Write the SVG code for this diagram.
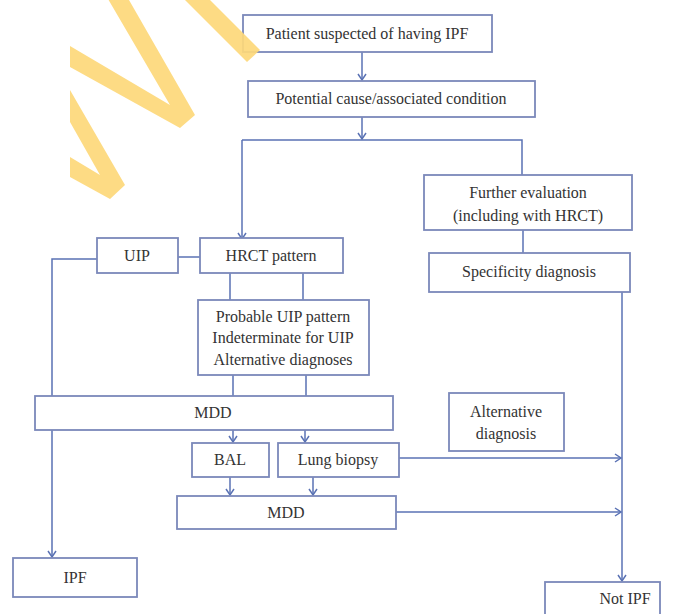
<svg xmlns="http://www.w3.org/2000/svg" width="694" height="614" viewBox="0 0 694 614">
<style>
.box{fill:#ffffff;stroke:#7b88ba;stroke-width:1.8}
.t{font-family:'Liberation Serif','Times New Roman',Times,'DejaVu Serif',serif;font-size:16px;fill:#333333;text-anchor:middle}
.c{fill:none;stroke:#5a72b4;stroke-width:1.5}
.wm{fill:#fdd87a;opacity:0.92}
</style>
<defs>
<marker id="ah" markerUnits="userSpaceOnUse" markerWidth="12" markerHeight="12" viewBox="-8 -6 10 12" refX="0" refY="0" orient="auto">
<path d="M-6,-4 L0,0 L-6,4" fill="none" stroke="#5a72b4" stroke-width="1.5"/>
</marker>
</defs>
<rect width="694" height="614" fill="#ffffff"/>
<g id="connectors">
<path class="c" d="M362,52 V80" marker-end="url(#ah)"/>
<path class="c" d="M362,117 V139" marker-end="url(#ah)"/>
<path class="c" d="M242,140 V239" marker-end="url(#ah)"/>
<path class="c" d="M242,140 H522 V175"/>
<path class="c" d="M523,230 V253"/>
<path class="c" d="M622,292 V581" marker-end="url(#ah)"/>
<path class="c" d="M178,257 H200"/>
<path class="c" d="M97,259 H52 V557" marker-end="url(#ah)"/>
<path class="c" d="M230,273 V300 M303,273 V300"/>
<path class="c" d="M233,375 V396 M306,375 V396"/>
<path class="c" d="M233,430 V442" marker-end="url(#ah)"/>
<path class="c" d="M305,430 V442" marker-end="url(#ah)"/>
<path class="c" d="M230,477 V495" marker-end="url(#ah)"/>
<path class="c" d="M313,477 V495" marker-end="url(#ah)"/>
<path class="c" d="M399,458 H621" marker-end="url(#ah)"/>
<path class="c" d="M396,512 H621" marker-end="url(#ah)"/>
</g>
<g id="n-patient"><rect class="box" x="243" y="15" width="249" height="37"/><text class="t" x="367" y="39">Patient suspected of having IPF</text></g>
<g id="n-cause"><rect class="box" x="248" y="81" width="287" height="36"/><text class="t" x="391" y="104">Potential cause/associated condition</text></g>
<g id="n-further"><rect class="box" x="424" y="175" width="208" height="55"/><text class="t" x="528" y="198">Further evaluation</text><text class="t" x="528" y="221">(including with HRCT)</text></g>
<g id="n-specificity"><rect class="box" x="429" y="253" width="201" height="39"/><text class="t" x="529" y="277">Specificity diagnosis</text></g>
<g id="n-uip"><rect class="box" x="97" y="238" width="81" height="35"/><text class="t" x="137" y="261">UIP</text></g>
<g id="n-hrct"><rect class="box" x="200" y="238" width="143" height="35"/><text class="t" x="271" y="261">HRCT pattern</text></g>
<g id="n-probable"><rect class="box" x="198" y="300" width="171" height="75"/><text class="t" x="283" y="322">Probable UIP pattern</text><text class="t" x="283" y="343">Indeterminate for UIP</text><text class="t" x="283" y="365">Alternative diagnoses</text></g>
<g id="n-mdd1"><rect class="box" x="35" y="396" width="358" height="34"/><text class="t" x="213" y="418">MDD</text></g>
<g id="n-bal"><rect class="box" x="192" y="443" width="77" height="34"/><text class="t" x="230" y="465">BAL</text></g>
<g id="n-lung"><rect class="box" x="278" y="443" width="121" height="34"/><text class="t" x="338" y="465">Lung biopsy</text></g>
<g id="n-mdd2"><rect class="box" x="177" y="496" width="219" height="33"/><text class="t" x="286" y="518">MDD</text></g>
<g id="n-alt"><rect class="box" x="449" y="393" width="115" height="58"/><text class="t" x="506" y="417">Alternative</text><text class="t" x="506" y="439">diagnosis</text></g>
<g id="n-ipf"><rect class="box" x="13" y="558" width="124" height="39"/><text class="t" x="75" y="583">IPF</text></g>
<g id="n-notipf"><rect class="box" x="545" y="582" width="115" height="40"/><text class="t" x="625" y="604">Not IPF</text></g>
<g id="watermark">
<polygon class="wm" points="70,46 170,105 108.6,0 129,0 195,115 180,128 70,67"/>
<polygon class="wm" points="70,90 125,185 110,199 70,177 70,157 100,175 70,122"/>
<polygon class="wm" points="185,0 210,0 260,50 247,62"/>
</g>
</svg>
